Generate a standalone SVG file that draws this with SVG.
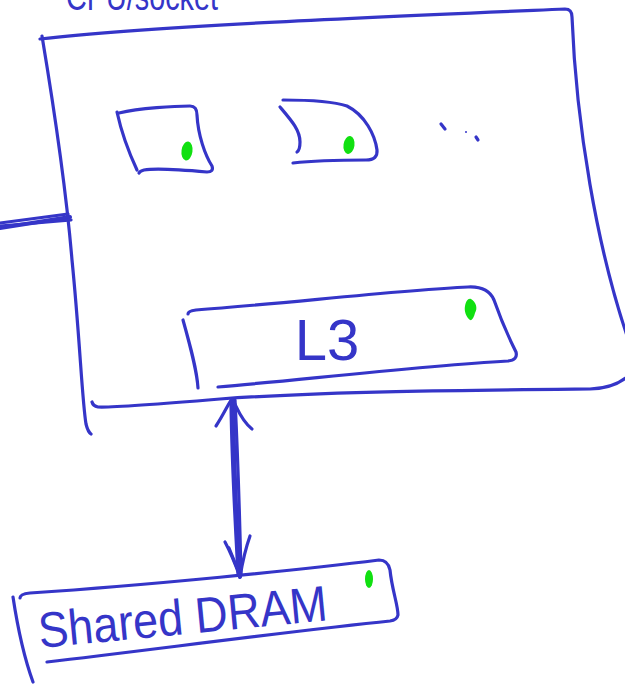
<svg xmlns="http://www.w3.org/2000/svg" width="625" height="684" viewBox="0 0 625 684">
  <style>
    .ink { fill: none; stroke: #3535c8; stroke-width: 3.2; stroke-linecap: round; stroke-linejoin: round; }
    .thick { stroke-width: 4; }
    .dot { fill: #11e011; stroke: none; }
    .label { fill: #3535c8; font-family: "Liberation Sans", Arial, sans-serif; }
  </style>
  <rect width="625" height="684" fill="#ffffff"/>

  <!-- socket outline with its (clipped) title -->
  <g id="cpu-socket">
    <text class="label" x="66" y="10" font-size="38" textLength="152" lengthAdjust="spacingAndGlyphs">CPU/socket</text>
    <path class="ink" d="M40,39 C150,26 400,16 565,9 Q572,9 572,17 C576,120 596,250 632,350"/>
    <path class="ink" d="M632,372 Q618,388 590,389 C480,390 330,391 220,399 C160,404 112,408 98,407 Q93,406 92,402"/>
    <path class="ink" d="M42,36 C56,120 67,200 72,260 C80,340 82,400 86,424 Q88,432 91,434"/>
  </g>

  <!-- first core -->
  <g id="core-1">
    <path class="ink" d="M119,113 C140,108 175,106 190,106 Q197,106 197,115 C198,135 205,155 212,166 Q214,172 207,172 C185,170 155,168 144,170 Q140,171 139,173"/>
    <path class="ink" d="M117,112 C122,135 130,155 137,170"/>
    <ellipse class="dot" cx="187" cy="151" rx="5.5" ry="9.5" transform="rotate(8 187 151)"/>
  </g>

  <!-- second core -->
  <g id="core-2">
    <path class="ink" d="M283,100 C310,100 335,102 347,106 C365,115 375,135 377,150 Q378,160 366,160 C340,160 310,161 293,163"/>
    <path class="ink" d="M280,107 C291,120 300,130 300,142 Q300,150 297,152"/>
    <ellipse class="dot" cx="349" cy="145" rx="5.5" ry="9" transform="rotate(8 349 145)"/>
  </g>

  <!-- further cores, elided -->
  <g id="more-cores">
    <path class="ink" d="M441,124 L445,129"/>
    <circle cx="466" cy="132" r="1" fill="#3535c8"/>
    <path class="ink" d="M476,137 L478,140" stroke-width="2.5"/>
  </g>

  <!-- shared last-level cache -->
  <g id="l3">
    <path class="ink" d="M188,314 Q188,311 196,310 C280,304 400,290 468,287 Q488,286 494,300 C501,320 510,340 516,352 Q518,360 508,361 C420,366 300,380 218,387"/>
    <path class="ink" d="M183,320 C190,345 197,370 198,388"/>
    <path class="dot" d="M471,299 C476,302 478,308 475,313 C474,317 472,321 470,320 C466,317 464,311 465,306 C466,301 468,298 471,299 Z"/>
    <text class="label" x="327" y="360" font-size="58" text-anchor="middle">L3</text>
  </g>

  <!-- main memory -->
  <g id="shared-dram">
    <path class="ink" d="M20,598 Q20,594 30,593 C150,585 300,570 379,560 Q388,560 390,570 C392,590 398,605 398,615 Q397,620 390,621 C300,630 150,650 47,662"/>
    <path class="ink" d="M13,597 C18,630 25,660 33,682"/>
    <ellipse class="dot" cx="369" cy="579" rx="4" ry="9"/>
    <text class="label" x="40" y="648" font-size="50" textLength="290" lengthAdjust="spacingAndGlyphs" transform="rotate(-5.5 40 648)">Shared DRAM</text>
  </g>

  <!-- links -->
  <g id="connectors">
    <g id="link-left">
      <path class="ink thick" d="M0,228 L70,217"/>
      <path class="ink" d="M0,223 L68,214"/>
      <path class="ink" d="M0,226 L71,220"/>
    </g>
    <g id="link-l3-dram">
      <path class="ink thick" d="M233,402 C234,460 236,520 240,577"/>
      <path class="ink" d="M231,404 C232,470 235,520 238,574"/>
      <path class="ink" d="M235,400 C238,460 240,530 241,575"/>
      <path class="ink" d="M216,426 C224,414 228,404 232,399 C236,404 240,420 252,429"/>
      <path class="ink" d="M225,542 C232,555 236,566 240,577 C242,565 245,550 250,536"/>
      <path class="ink" d="M229,548 C234,560 237,568 240,575"/>
    </g>
  </g>
</svg>
